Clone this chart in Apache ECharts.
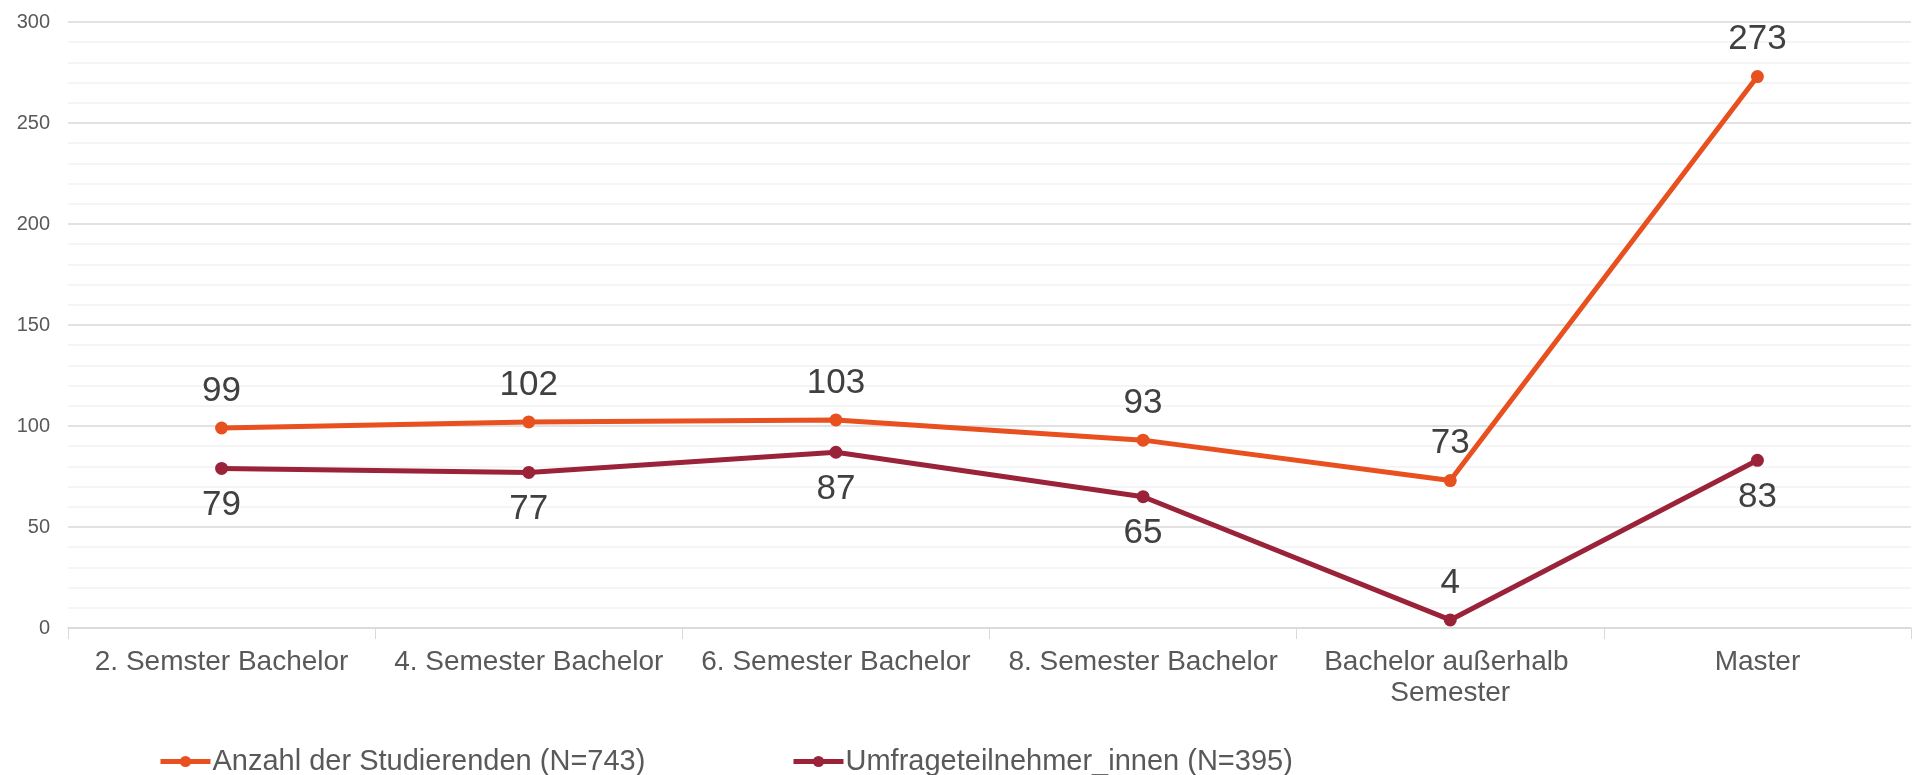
<!DOCTYPE html>
<html>
<head>
<meta charset="utf-8">
<script src="https://cdn.jsdelivr.net/npm/echarts@6/dist/echarts.min.js"></script>
<style>
  html, body { margin: 0; padding: 0; background: #fff; }
  #chart { width: 1912px; height: 775px; }
</style>
</head>
<body>
<div id="chart"></div>
<script>
// Kategorien und Werte
const categories = ['2. Semster Bachelor', '4. Semester Bachelor', '6. Semester Bachelor', '8. Semester Bachelor', 'Bachelor außerhalb Semester', 'Master'];
const anzahl = [99, 102, 103, 93, 73, 273];
const umfrage = [79, 77, 87, 65, 4, 83];
const seriesNames = ['Anzahl der Studierenden (N=743)', 'Umfrageteilnehmer_innen (N=395)'];

const FONT = "'Liberation Sans', Arial, sans-serif";
const ORANGE = '#E8501F';
const RED = '#9A2339';

let chart = echarts.init(document.getElementById('chart'));

let labelStyle = {
  show: true,
  fontFamily: FONT,
  fontSize: 35,
  color: '#404040',
  distance: 13
};

let legendCfg = (name, left) => ({
  left: left, top: 742,
  itemWidth: 50, itemHeight: 14,
  itemGap: 0,
  lineStyle: { width: 5 },
  textStyle: { fontSize: 29, color: '#595959', fontFamily: FONT, padding: [0, 0, 0, -3] },
  data: [name]
});

let option = {
  animation: false,
  textStyle: { fontFamily: FONT },
  grid: { left: 68, right: 1, top: 22, bottom: 147 },
  legend: [legendCfg(seriesNames[0], 153), legendCfg(seriesNames[1], 786)],
  xAxis: {
    type: 'category',
    data: categories,
    boundaryGap: true,
    axisLine: { lineStyle: { color: '#d9d9d9', width: 1.5 } },
    axisTick: { show: true, length: 11, lineStyle: { color: '#d9d9d9' } },
    axisLabel: {
      interval: 0,
      fontSize: 28,
      lineHeight: 31,
      color: '#595959',
      margin: 19,
      width: 300,
      overflow: 'break'
    }
  },
  yAxis: {
    type: 'value',
    min: 0,
    max: 300,
    interval: 50,
    axisLine: { show: false },
    axisTick: { show: false },
    axisLabel: { fontSize: 20, color: '#595959', margin: 18 },
    splitLine: { lineStyle: { color: '#d9d9d9', width: 1.5 } },
    minorTick: { show: false, splitNumber: 5 },
    minorSplitLine: { show: true, lineStyle: { color: '#f2f2f2', width: 1.5 } }
  },
  series: [
    {
      name: seriesNames[0],
      type: 'line',
      data: anzahl,
      symbol: 'circle',
      symbolSize: 13,
      lineStyle: { color: ORANGE, width: 5 },
      itemStyle: { color: ORANGE },
      label: Object.assign({ position: 'top' }, labelStyle)
    },
    {
      name: seriesNames[1],
      type: 'line',
      data: umfrage.map((v, i) => ({
        value: v,
        label: { position: i === 4 ? 'top' : 'bottom' }
      })),
      symbol: 'circle',
      symbolSize: 13,
      lineStyle: { color: RED, width: 5 },
      itemStyle: { color: RED },
      label: Object.assign({ position: 'bottom' }, labelStyle)
    }
  ]
};

option && chart.setOption(option);
</script>
</body>
</html>
